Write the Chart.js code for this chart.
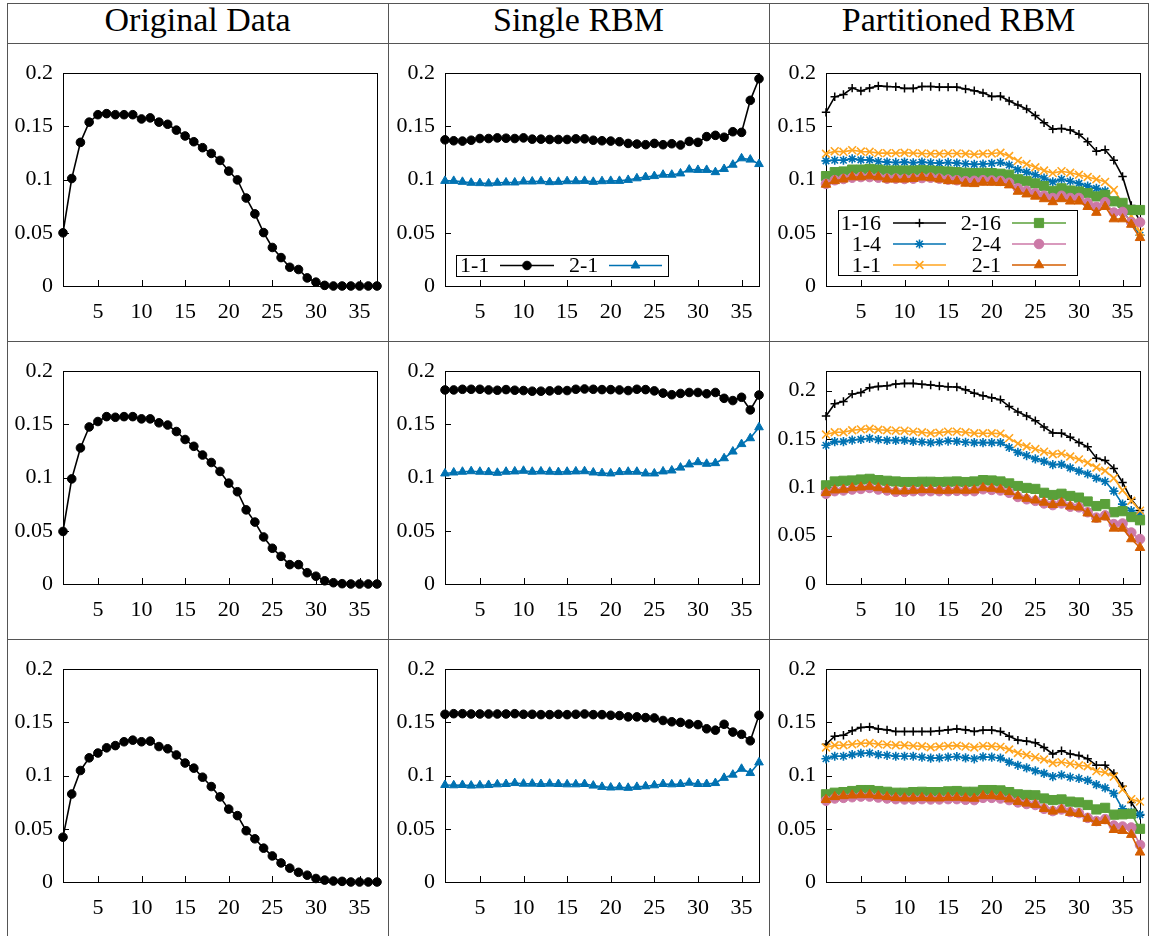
<!DOCTYPE html>
<html>
<head>
<meta charset="utf-8">
<script src="https://cdn.jsdelivr.net/npm/chart.js@4.4.1/dist/chart.umd.min.js"></script>
<style>
  body { margin: 0; background: #fff; width: 1150px; height: 936px; overflow: hidden; position: relative; font-family: "Liberation Serif", "Times New Roman", serif; }
  .hl { position: absolute; height: 1px; background: #555; }
  .vl { position: absolute; width: 1px; background: #555; }
  .title { position: absolute; top: 3px; height: 34px; line-height: 34px; font-size: 34px; text-align: center; color: #000; white-space: nowrap; }
  canvas { position: absolute; }
</style>
</head>
<body>

<div class="hl" style="left:7px; top:3px; width:1142px;"></div>
<div class="hl" style="left:7px; top:43px; width:1142px;"></div>
<div class="hl" style="left:7px; top:341px; width:1142px;"></div>
<div class="hl" style="left:7px; top:639px; width:1142px;"></div>
<div class="vl" style="left:7px; top:3px; height:933px;"></div>
<div class="vl" style="left:388px; top:3px; height:933px;"></div>
<div class="vl" style="left:769px; top:3px; height:933px;"></div>
<div class="vl" style="left:1148px; top:3px; height:933px;"></div>

<div class="title" style="left:7px; width:381px;">Original Data</div>
<div class="title" style="left:388px; width:381px;">Single RBM</div>
<div class="title" style="left:769px; width:379px;">Partitioned RBM</div>

<script>
// x positions (time steps) and tick labels
const steps = [1,2,3,4,5,6,7,8,9,10,11,12,13,14,15,16,17,18,19,20,21,22,23,24,25,26,27,28,29,30,31,32,33,34,35,36,37];
const xTicks = [5, 10, 15, 20, 25, 30, 35];
const yTicks = [0, 0.05, 0.1, 0.15, 0.2];
const yTickLabels = ['0', '0.05', '0.1', '0.15', '0.2'];

// Original data
const origRow1 = [0.050,0.101,0.135,0.154,0.161,0.162,0.161,0.161,0.161,0.157,0.158,0.154,0.152,0.1465,0.141,0.1356,0.130,0.1246,0.118,0.108,0.0997,0.0827,0.0678,0.0502,0.0362,0.0267,0.0176,0.0155,0.0076,0.0036,0.0006,0,0,0,0,0,0];
const origRow2 = [0.0494,0.0988,0.1279,0.1476,0.1527,0.1573,0.1567,0.1573,0.1573,0.1552,0.1552,0.1515,0.1494,0.1433,0.1358,0.1294,0.1212,0.1142,0.1058,0.0948,0.0867,0.0697,0.0582,0.0442,0.0336,0.026,0.0182,0.0182,0.0106,0.0073,0.003,0.0012,0.0003,0,0,0,0];
const origRow3 = [0.0421,0.0827,0.1048,0.1167,0.1212,0.1261,0.1282,0.1318,0.1333,0.1318,0.1324,0.1273,0.1252,0.1194,0.1118,0.107,0.0985,0.0897,0.08,0.0685,0.0624,0.0482,0.0406,0.0318,0.0245,0.0179,0.013,0.0091,0.0064,0.0033,0.0018,0.0009,0.0006,0,0,0,0];

// Single RBM
const single11Row1 = [0.1374,0.1365,0.1362,0.137,0.1386,0.1386,0.1392,0.1389,0.1386,0.1392,0.138,0.138,0.1377,0.1377,0.1377,0.1383,0.1383,0.137,0.1365,0.1362,0.1356,0.134,0.1334,0.1328,0.134,0.1328,0.1337,0.1325,0.1359,0.135,0.1404,0.1416,0.1398,0.145,0.1444,0.1745,0.1948];
const single21Row1 = [0.0988,0.0988,0.0979,0.097,0.0967,0.0964,0.097,0.0973,0.0973,0.0982,0.0982,0.0985,0.0976,0.0979,0.0985,0.0985,0.0988,0.0979,0.0985,0.0988,0.0988,0.0997,0.1012,0.1024,0.1033,0.1046,0.1046,0.1058,0.1094,0.1091,0.1091,0.107,0.11,0.114,0.12,0.1188,0.1146];
const single11Row2 = [0.1824,0.1824,0.183,0.183,0.183,0.1824,0.1821,0.1827,0.1821,0.1818,0.1812,0.1812,0.1815,0.1821,0.1818,0.183,0.1833,0.183,0.1827,0.1827,0.1824,0.1818,0.183,0.1827,0.1815,0.1794,0.1779,0.1791,0.18,0.18,0.1788,0.18,0.1745,0.1724,0.1755,0.1636,0.1776];
const single21Row2 = [0.1039,0.1048,0.1055,0.106,0.1055,0.1052,0.1045,0.1055,0.1058,0.1064,0.1055,0.1058,0.1055,0.1052,0.1055,0.1058,0.106,0.1048,0.1042,0.1039,0.1052,0.1055,0.1055,0.1039,0.1039,0.1058,0.1067,0.1094,0.1124,0.1145,0.113,0.1136,0.1182,0.1245,0.1315,0.137,0.1473];
const single11Row3 = [0.1576,0.1582,0.1582,0.1579,0.1579,0.1579,0.1579,0.1579,0.1582,0.1576,0.1576,0.1573,0.1573,0.1576,0.1573,0.1576,0.1579,0.1573,0.1573,0.1567,0.1564,0.1552,0.1552,0.1545,0.1542,0.1518,0.1506,0.15,0.1485,0.1479,0.144,0.1427,0.1482,0.1409,0.1388,0.1327,0.1567];
const single21Row3 = [0.0912,0.0909,0.0912,0.0906,0.0909,0.0912,0.0918,0.0921,0.093,0.0924,0.0924,0.0921,0.0924,0.0921,0.0918,0.0918,0.0921,0.0906,0.0894,0.0888,0.0891,0.0885,0.0894,0.09,0.0909,0.0921,0.0918,0.0921,0.0933,0.0921,0.0921,0.093,0.0979,0.1009,0.1064,0.1024,0.1124];

// Partitioned RBM
const part116Row1 = [0.1632,0.1778,0.18,0.186,0.1833,0.186,0.1881,0.1875,0.1872,0.1857,0.1857,0.1875,0.1875,0.1869,0.1869,0.1869,0.1851,0.1836,0.1815,0.1781,0.1784,0.1739,0.1702,0.1663,0.1602,0.1535,0.1474,0.148,0.1465,0.1426,0.1356,0.1267,0.128,0.1182,0.103,0.0757,0.061];
const part14Row1 = [0.1176,0.1182,0.1182,0.1195,0.1185,0.1185,0.117,0.1164,0.1161,0.1164,0.1158,0.1164,0.1158,0.1155,0.1161,0.1155,0.1149,0.1143,0.1146,0.1152,0.1161,0.1137,0.1094,0.107,0.1046,0.1015,0.0979,0.1003,0.0985,0.0964,0.0939,0.0918,0.0894,0.0796,0.0705,0.0599,0.0477];
const part11Row1 = [0.1243,0.1267,0.1261,0.1277,0.1264,0.1261,0.1249,0.1249,0.1249,0.1252,0.1249,0.1246,0.1243,0.1243,0.1246,0.1246,0.1243,0.1237,0.1243,0.1246,0.1252,0.1222,0.1176,0.1146,0.1116,0.1085,0.1061,0.1079,0.1064,0.1046,0.1024,0.1003,0.0979,0.0903,0.0781,0.066,0.0508];
const part216Row1 = [0.1033,0.107,0.1076,0.1094,0.1094,0.11,0.1094,0.1085,0.1085,0.1085,0.1085,0.1088,0.1085,0.1079,0.1076,0.107,0.1064,0.1061,0.1064,0.1061,0.1055,0.1046,0.1003,0.0985,0.0964,0.0939,0.0894,0.0918,0.0897,0.0888,0.0872,0.0842,0.0857,0.0796,0.0781,0.0714,0.0714];
const part24Row1 = [0.096,0.0994,0.1006,0.1018,0.1024,0.1024,0.1018,0.1009,0.1009,0.1006,0.1009,0.1015,0.1018,0.1009,0.1,0.0994,0.0985,0.0988,0.0994,0.0991,0.0988,0.097,0.0918,0.0894,0.0872,0.0848,0.0827,0.0848,0.0827,0.0827,0.0781,0.0745,0.0787,0.069,0.0696,0.0599,0.0599];
const part21Row1 = [0.0954,0.0988,0.1003,0.1024,0.1024,0.1033,0.1024,0.1003,0.1003,0.1003,0.1009,0.1021,0.1015,0.1003,0.0988,0.0985,0.0964,0.096,0.0973,0.0973,0.097,0.0948,0.0888,0.0863,0.0842,0.0818,0.079,0.0818,0.0796,0.0796,0.0745,0.069,0.0745,0.0629,0.0629,0.0578,0.0453];

const part116Row2 = [0.1736,0.1863,0.1886,0.1963,0.198,0.203,0.2043,0.205,0.2067,0.2074,0.2074,0.2064,0.2057,0.2047,0.204,0.2037,0.2007,0.1973,0.1946,0.1926,0.1906,0.1836,0.1779,0.1736,0.1689,0.1622,0.1562,0.1559,0.1518,0.1462,0.1418,0.1301,0.1278,0.1194,0.105,0.0876,0.0759];
const part14Row2 = [0.1435,0.1472,0.1472,0.1488,0.1495,0.1505,0.1492,0.1485,0.1485,0.1485,0.1475,0.1468,0.1462,0.1468,0.1478,0.1475,0.1465,0.1462,0.1462,0.1462,0.1462,0.1411,0.1361,0.1328,0.1294,0.1268,0.1234,0.1237,0.1201,0.1167,0.1137,0.1094,0.106,0.096,0.0826,0.0759,0.0709];
const part11Row2 = [0.1545,0.1569,0.1569,0.1589,0.1599,0.1605,0.1595,0.1589,0.1585,0.1585,0.1575,0.1569,0.1559,0.1565,0.1575,0.1575,0.1569,0.1559,0.1559,0.1559,0.1555,0.1508,0.1452,0.1421,0.1395,0.1368,0.1341,0.1348,0.1318,0.1288,0.1254,0.1204,0.1171,0.1094,0.097,0.086,0.0759];
const part216Row2 = [0.102,0.106,0.1067,0.107,0.108,0.1087,0.1074,0.1067,0.106,0.1054,0.1054,0.1057,0.1057,0.1054,0.1057,0.106,0.1054,0.106,0.1074,0.107,0.106,0.104,0.1013,0.0993,0.0983,0.0943,0.092,0.0933,0.091,0.0893,0.0853,0.0806,0.0826,0.0742,0.0753,0.0692,0.0659];
const part24Row2 = [0.0933,0.096,0.0967,0.0977,0.0983,0.0993,0.0977,0.0967,0.0953,0.0953,0.096,0.096,0.096,0.096,0.096,0.0963,0.096,0.096,0.098,0.0973,0.0967,0.0943,0.09,0.0876,0.086,0.0833,0.0816,0.0833,0.0799,0.0793,0.0742,0.0686,0.0709,0.0619,0.0625,0.0532,0.0465];
const part21Row2 = [0.0943,0.097,0.0977,0.0993,0.1,0.1007,0.0993,0.0977,0.096,0.096,0.0967,0.0973,0.0973,0.0967,0.0967,0.097,0.0967,0.097,0.0993,0.0987,0.0977,0.0953,0.091,0.0883,0.0866,0.0843,0.0819,0.0839,0.0803,0.0793,0.0732,0.0669,0.0692,0.0575,0.0575,0.0465,0.0375];

const part116Row3 = [0.1294,0.137,0.1379,0.1421,0.1452,0.1458,0.1439,0.143,0.1415,0.1415,0.1415,0.1415,0.1415,0.1421,0.143,0.1439,0.143,0.1415,0.1427,0.1427,0.1415,0.137,0.1333,0.1324,0.1309,0.1264,0.1203,0.1233,0.1203,0.1188,0.1158,0.1097,0.1097,0.1021,0.09,0.0748,0.0627];
const part14Row3 = [0.1158,0.1182,0.1182,0.1197,0.1209,0.1212,0.1197,0.1191,0.1182,0.1182,0.1182,0.1173,0.1164,0.1167,0.1173,0.1179,0.1167,0.1158,0.1176,0.1173,0.1164,0.1127,0.1097,0.1073,0.1045,0.1021,0.0991,0.1006,0.0985,0.0973,0.0955,0.0915,0.0885,0.0833,0.0688,0.0658,0.0633];
const part11Row3 = [0.1264,0.1285,0.1285,0.1294,0.1303,0.1306,0.1294,0.1291,0.1285,0.1285,0.1279,0.1276,0.1267,0.1273,0.1279,0.1282,0.1273,0.1264,0.1279,0.1276,0.127,0.1245,0.1212,0.1194,0.1173,0.1152,0.1118,0.1127,0.1112,0.1097,0.1088,0.1042,0.103,0.0991,0.087,0.0779,0.0755];
const part216Row3 = [0.0824,0.0839,0.0845,0.0855,0.0864,0.0864,0.0855,0.0848,0.0839,0.0839,0.0845,0.0848,0.0845,0.0845,0.0852,0.0855,0.0848,0.0848,0.0864,0.0864,0.0861,0.0845,0.0824,0.0818,0.0815,0.0785,0.077,0.0776,0.0755,0.0748,0.0724,0.0682,0.0697,0.0633,0.0636,0.0642,0.05];
const part24Row3 = [0.0764,0.0785,0.0791,0.0797,0.0803,0.0803,0.0794,0.0785,0.0779,0.0776,0.0776,0.0779,0.0776,0.0776,0.0779,0.0779,0.0773,0.077,0.0791,0.0791,0.0785,0.077,0.0748,0.0733,0.0724,0.0688,0.0667,0.0682,0.0658,0.0648,0.0603,0.0573,0.0591,0.053,0.0521,0.0512,0.0348];
const part21Row3 = [0.0773,0.08,0.0809,0.0815,0.0818,0.0818,0.0809,0.08,0.0791,0.0788,0.0788,0.0791,0.0788,0.0788,0.0794,0.0794,0.0788,0.0785,0.0809,0.0809,0.0803,0.0779,0.0755,0.0739,0.0727,0.0688,0.0664,0.0682,0.0652,0.0642,0.0597,0.0558,0.0576,0.0491,0.0482,0.0445,0.0279];

// styles for each series (pgfplots-like cycle)
const FONT = '"Liberation Serif", "Times New Roman", serif';
const styleOrig = { label: '', color: '#000', marker: 'circle', radius: 4.3, pw: 1 };
const styleS11 = { label: '1-1', color: '#000', marker: 'circle', radius: 4.3, pw: 1 };
const styleS21 = { label: '2-1', color: '#0072B2', marker: 'triangle', radius: 5, pw: 1 };
const partStyles = [
  { label: '1-16', color: '#000', marker: 'cross', radius: 4.2, pw: 1.5 },
  { label: '1-4', color: '#0072B2', marker: 'star', radius: 4.6, pw: 1.6 },
  { label: '1-1', color: '#FFA51F', marker: 'crossRot', radius: 5.5, pw: 1.6 },
  { label: '2-16', color: '#5AA03A', marker: 'rect', radius: 6.5, pw: 1 },
  { label: '2-4', color: '#CC79A7', marker: 'circle', radius: 4.8, pw: 1 },
  { label: '2-1', color: '#D55E00', marker: 'triangle', radius: 5.5, pw: 1 }
];

// plot area positions on the page
const colLeft = [63, 445, 826];
const rowTop = [66, 364, 662];
const PLOT_W = 314, PLOT_H = 220;
const PAD_L = 60, PAD_T = 16, PAD_R = 10, PAD_B = 46;

// axis box with inward ticks, drawn under the data like pgfplots
const axisBox = {
  id: 'axisBox',
  beforeDatasetsDraw(chart) {
    const { ctx, chartArea: a, scales: { x, y } } = chart;
    ctx.save();
    ctx.strokeStyle = '#000';
    ctx.lineWidth = 1;
    ctx.strokeRect(Math.round(a.left) + 0.5, Math.round(a.top) + 0.5, Math.round(a.right - a.left), Math.round(a.bottom - a.top));
    ctx.beginPath();
    xTicks.forEach(v => {
      const px = Math.round(x.getPixelForValue(v)) + 0.5;
      ctx.moveTo(px, a.bottom);
      ctx.lineTo(px, a.bottom - 6);
    });
    yTicks.forEach(v => {
      const py = Math.round(y.getPixelForValue(v)) + 0.5;
      ctx.moveTo(a.left, py);
      ctx.lineTo(a.left + 6, py);
    });
    ctx.stroke();
    ctx.restore();
  }
};

// legend box inside the axis, text before the sample line
const boxLegend = {
  id: 'boxLegend',
  afterDatasetsDraw(chart, args, opts) {
    if (!opts || !opts.entries) return;
    const { ctx, chartArea: a } = chart;
    const bx = a.left + opts.left, by = a.bottom - opts.bottom - opts.height;
    ctx.save();
    ctx.fillStyle = '#fff';
    ctx.fillRect(bx, by, opts.width, opts.height);
    ctx.strokeStyle = '#000';
    ctx.lineWidth = 1;
    ctx.strokeRect(Math.round(bx) + 0.5, Math.round(by) + 0.5, opts.width, opts.height);
    ctx.font = '22px ' + FONT;
    ctx.textBaseline = 'middle';
    opts.entries.forEach(e => {
      const ds = chart.data.datasets[e.ds];
      const cy = by + e.row;
      ctx.fillStyle = '#000';
      ctx.textAlign = e.align;
      ctx.fillText(ds.label, bx + e.tx, cy + 1);
      ctx.strokeStyle = ds.borderColor;
      ctx.lineWidth = ds.borderWidth;
      ctx.beginPath();
      ctx.moveTo(bx + e.line[0], cy);
      ctx.lineTo(bx + e.line[1], cy);
      ctx.stroke();
      ctx.fillStyle = ds.pointBackgroundColor;
      ctx.lineWidth = ds.pointBorderWidth;
      Chart.helpers.drawPoint(ctx, { pointStyle: ds.pointStyle, radius: ds.pointRadius, borderWidth: ds.pointBorderWidth, rotation: 0 }, bx + (e.line[0] + e.line[1]) / 2, cy);
    });
    ctx.restore();
  }
};

function makeChart(col, row, series, yMax, legend) {
  const canvas = document.createElement('canvas');
  const w = PAD_L + PLOT_W + PAD_R, h = PAD_T + PLOT_H + PAD_B;
  canvas.width = w; canvas.height = h;
  canvas.style.width = w + 'px'; canvas.style.height = h + 'px';
  canvas.style.left = (colLeft[col] - PAD_L) + 'px';
  canvas.style.top = (rowTop[row] - PAD_T) + 'px';
  document.body.appendChild(canvas);

  const tickFont = { family: FONT, size: 22 };
  new Chart(canvas, {
    type: 'line',
    data: {
      datasets: series.map((s, i) => ({
        label: s.style.label,
        data: steps.map((x, k) => ({ x: x, y: s.values[k] })),
        borderColor: s.style.color,
        backgroundColor: s.style.color,
        borderWidth: 1.6,
        pointStyle: s.style.marker,
        pointRadius: s.style.radius,
        pointBorderWidth: s.style.pw,
        pointBorderColor: s.style.color,
        pointBackgroundColor: s.style.color,
        tension: 0,
        clip: false,
        order: -i
      }))
    },
    options: {
      responsive: false,
      animation: false,
      devicePixelRatio: 1,
      layout: { padding: { top: PAD_T, right: PAD_R, left: 0, bottom: 0 } },
      plugins: {
        legend: { display: false },
        tooltip: { enabled: false },
        boxLegend: legend || {}
      },
      scales: {
        x: {
          type: 'linear', min: 1, max: 37,
          grid: { display: false, drawTicks: false }, border: { display: false },
          afterBuildTicks: s => { s.ticks = xTicks.map(v => ({ value: v })); },
          afterFit: s => { s.height = PAD_B; },
          ticks: { color: '#000', font: tickFont, padding: 13, maxRotation: 0, autoSkip: false }
        },
        y: {
          type: 'linear', min: 0, max: yMax,
          grid: { display: false, drawTicks: false }, border: { display: false },
          afterBuildTicks: s => { s.ticks = yTicks.map(v => ({ value: v })); },
          afterFit: s => { s.width = PAD_L; },
          ticks: { color: '#000', font: tickFont, padding: 10, autoSkip: false,
                   callback: v => yTickLabels[yTicks.indexOf(v)] }
        }
      }
    },
    plugins: [axisBox, boxLegend]
  });
}

const singleLegend = {
  left: 11, bottom: 10, width: 212, height: 21,
  entries: [
    { ds: 0, row: 10.5, tx: 4, align: 'left', line: [44, 98] },
    { ds: 1, row: 10.5, tx: 113, align: 'left', line: [153, 206] }
  ]
};
const partLegend = {
  left: 12, bottom: 11, width: 239, height: 65,
  entries: [
    { ds: 0, row: 13, tx: 43, align: 'right', line: [55, 108] },
    { ds: 1, row: 34, tx: 43, align: 'right', line: [55, 108] },
    { ds: 2, row: 55, tx: 43, align: 'right', line: [55, 108] },
    { ds: 3, row: 13, tx: 163, align: 'right', line: [174, 228] },
    { ds: 4, row: 34, tx: 163, align: 'right', line: [174, 228] },
    { ds: 5, row: 55, tx: 163, align: 'right', line: [174, 228] }
  ]
};

const origRows = [origRow1, origRow2, origRow3];
const singleRows = [[single11Row1, single21Row1], [single11Row2, single21Row2], [single11Row3, single21Row3]];
const partRows = [
  [part116Row1, part14Row1, part11Row1, part216Row1, part24Row1, part21Row1],
  [part116Row2, part14Row2, part11Row2, part216Row2, part24Row2, part21Row2],
  [part116Row3, part14Row3, part11Row3, part216Row3, part24Row3, part21Row3]
];
const partYMax = [0.2, 0.22, 0.2];

for (let r = 0; r < 3; r++) {
  makeChart(0, r, [{ style: styleOrig, values: origRows[r] }], 0.2, null);
  makeChart(1, r, [{ style: styleS11, values: singleRows[r][0] }, { style: styleS21, values: singleRows[r][1] }], 0.2, r === 0 ? singleLegend : null);
  makeChart(2, r, partRows[r].map((v, i) => ({ style: partStyles[i], values: v })), partYMax[r], r === 0 ? partLegend : null);
}
</script>
</body>
</html>
